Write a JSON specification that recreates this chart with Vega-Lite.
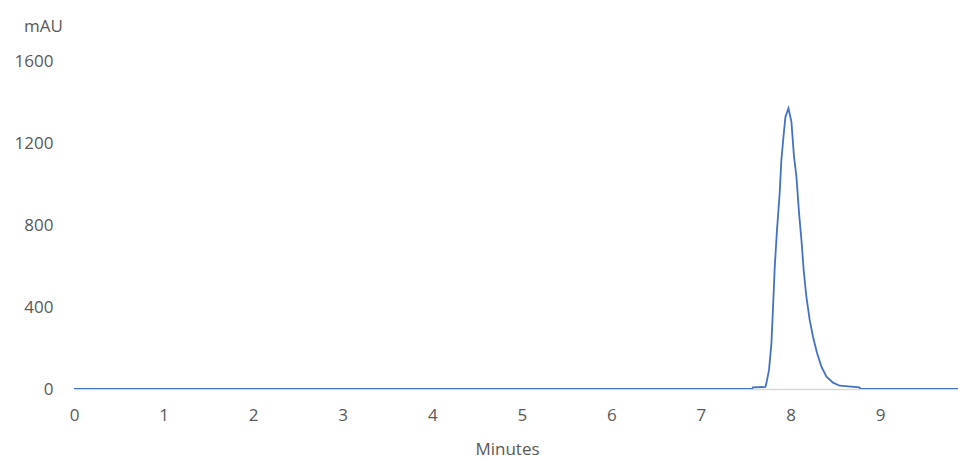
{
  "$schema": "https://vega.github.io/schema/vega-lite/v6.json",
  "autosize": {"type": "none"},
  "padding": {"left": 74, "top": 61, "right": 0, "bottom": 70},
  "width": 884,
  "height": 328,
  "background": "white",
  "config": {
    "view": {"stroke": null},
    "font": "Open Sans"
  },
  "data": {
    "values": [
      {"t": 0, "v": 0},
      {"t": 7.57, "v": 0},
      {"t": 7.58, "v": 8},
      {"t": 7.72, "v": 10},
      {"t": 7.731, "v": 29},
      {"t": 7.76, "v": 93},
      {"t": 7.787, "v": 224},
      {"t": 7.805, "v": 400},
      {"t": 7.824, "v": 595},
      {"t": 7.849, "v": 776},
      {"t": 7.879, "v": 956},
      {"t": 7.898, "v": 1117},
      {"t": 7.921, "v": 1229},
      {"t": 7.943, "v": 1327},
      {"t": 7.977, "v": 1369},
      {"t": 8.01, "v": 1304},
      {"t": 8.039, "v": 1133},
      {"t": 8.066, "v": 1036},
      {"t": 8.095, "v": 859},
      {"t": 8.122, "v": 727},
      {"t": 8.147, "v": 580},
      {"t": 8.177, "v": 450},
      {"t": 8.214, "v": 337},
      {"t": 8.251, "v": 255},
      {"t": 8.296, "v": 176},
      {"t": 8.345, "v": 109},
      {"t": 8.401, "v": 60},
      {"t": 8.474, "v": 31},
      {"t": 8.549, "v": 16},
      {"t": 8.77, "v": 8},
      {"t": 8.78, "v": 0},
      {"t": 9.87, "v": 0}
    ]
  },
  "mark": {"type": "line", "color": "#4472C4", "strokeWidth": 1.8, "clip": true},
  "encoding": {
    "x": {
      "field": "t",
      "type": "quantitative",
      "scale": {"domain": [0, 9.87], "nice": false, "zero": false},
      "axis": {
        "values": [0, 1, 2, 3, 4, 5, 6, 7, 8, 9],
        "grid": false,
        "ticks": false,
        "domainColor": "#d9d9d9",
        "domainWidth": 1.5,
        "labelFontSize": 17,
        "labelColor": "#595959",
        "labelPadding": 18,
        "labelFlush": false,
        "title": "Minutes",
        "titleFontSize": 17,
        "titleFontWeight": "normal",
        "titleColor": "#595959",
        "titleX": 433,
        "titleY": 60,
        "titleBaseline": "middle",
        "titleAlign": "center"
      }
    },
    "y": {
      "field": "v",
      "type": "quantitative",
      "scale": {"domain": [0, 1600], "nice": false},
      "axis": {
        "values": [0, 400, 800, 1200, 1600],
        "format": "d",
        "grid": false,
        "ticks": false,
        "domain": false,
        "labelFontSize": 17,
        "labelColor": "#595959",
        "labelPadding": 21,
        "title": "mAU",
        "titleAngle": 0,
        "titleFontSize": 17,
        "titleFontWeight": "normal",
        "titleColor": "#595959",
        "titleX": -31,
        "titleY": -35,
        "titleAlign": "center",
        "titleBaseline": "middle"
      }
    }
  }
}
